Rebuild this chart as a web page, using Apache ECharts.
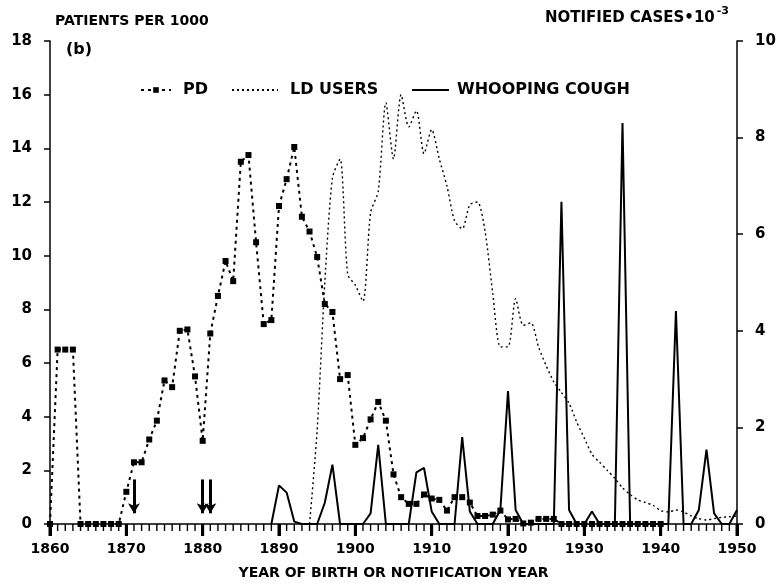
<!DOCTYPE html>
<html>
<head>
<meta charset="utf-8">
<script src="https://cdn.jsdelivr.net/npm/echarts@6.0.0/dist/echarts.min.js"></script>
<style>
  html, body { margin: 0; padding: 0; background: #fff; }
  #main { width: 780px; height: 585px; }
</style>
</head>
<body>
<div id="main"></div>
<script>
// PD patients per 1000, by year of birth (1860 - 1940)
const pdStart = 1860;
const pdValues = [
  0, 6.5, 6.5, 6.5, 0, 0, 0, 0, 0, 0,                 // 1860-1869
  1.2, 2.3, 2.3, 3.15, 3.85, 5.35, 5.1, 7.2, 7.25, 5.5, // 1870-1879
  3.1, 7.1, 8.5, 9.8, 9.05, 13.5, 13.75, 10.5, 7.45, 7.6, // 1880-1889
  11.85, 12.85, 14.05, 11.45, 10.9, 9.95, 8.2, 7.9, 5.4, 5.55, // 1890-1899
  2.95, 3.2, 3.9, 4.55, 3.85, 1.85, 1.0, 0.75, 0.75, 1.1, // 1900-1909
  0.95, 0.9, 0.5, 1.0, 1.0, 0.8, 0.3, 0.3, 0.35, 0.5,  // 1910-1919
  0.17, 0.19, 0.02, 0.05, 0.19, 0.19, 0.19, 0, 0, 0,   // 1920-1929
  0, 0, 0, 0, 0, 0, 0, 0, 0, 0,                        // 1930-1939
  0                                                    // 1940
];

// LD users per 1000 (1894 - 1950)
const ldStart = 1894;
const ldValues = [
  0, 3.5, 9.0, 12.9, 13.6, 9.3,                        // 1894-1899
  8.9, 8.3, 11.6, 12.4, 15.7, 13.6, 16.0, 14.8, 15.4, 13.8, // 1900-1909
  14.7, 13.6, 12.6, 11.3, 11.0, 11.9, 12.0, 10.9, 8.6, 6.6, // 1910-1919
  6.6, 8.4, 7.4, 7.5, 6.6, 5.9, 5.3, 4.9, 4.5, 3.8,    // 1920-1929
  3.2, 2.6, 2.3, 2.0, 1.7, 1.35, 1.1, 0.9, 0.8, 0.7,   // 1930-1939
  0.5, 0.45, 0.52, 0.45, 0.3, 0.2, 0.15, 0.2, 0.25, 0.27, // 1940-1949
  0.3                                                  // 1950
];

// whooping cough notified cases * 10^-3 (1889 - 1950)
const wcStart = 1889;
const wcValues = [
  0,                                                   // 1889
  0.8, 0.65, 0.05, 0, 0, 0, 0.44, 1.23, 0, 0,          // 1890-1899
  0, 0, 0.22, 1.64, 0, 0, 0, 0, 1.07, 1.16,            // 1900-1909
  0.26, 0, 0, 0, 1.8, 0.26, 0, 0, 0, 0.29,             // 1910-1919
  2.75, 0.29, 0, 0, 0, 0, 0, 6.67, 0.29, 0,            // 1920-1929
  0, 0.26, 0, 0, 0, 8.3, 0, 0, 0, 0,                   // 1930-1939
  0, 0, 4.41, 0, 0, 0.29, 1.54, 0.22, 0, 0,            // 1940-1949
  0.29                                                 // 1950
];

// arrows under the PD curve
const arrowYears = [1871, 1880, 1881];
const arrowTop = 1.66, arrowBottom = 0.4;

// one small tick per year on the x axis, heavier every decade
const tickYears = [];
for (let y = 1860; y <= 1950; y++) tickYears.push([y, 0]);

function pairs(start, vals) {
  return vals.map(function (v, i) { return [start + i, v]; });
}

const font = 'DejaVu Sans';
const black = '#000';

let myChart = echarts.init(document.getElementById('main'));

// legend entries: line only, no symbol for LD / whooping cough
const noSymbol = { color: 'rgba(0,0,0,0)', borderWidth: 0, opacity: 0 };

let option = {
  animation: false,
  backgroundColor: '#fff',
  grid: { left: 50, right: 43, top: 41, bottom: 61 },
  legend: [
    {
      data: ['PD'], left: 135, top: 77, itemWidth: 30, itemHeight: 7,
      textStyle: { fontFamily: font, fontWeight: 'bold', fontSize: 16, color: black, padding: [0, 0, 0, 7] }
    },
    {
      data: ['LD USERS'], left: 226, top: 77, itemWidth: 46, itemHeight: 7,
      itemStyle: noSymbol,
      textStyle: { fontFamily: font, fontWeight: 'bold', fontSize: 16, color: black, padding: [0, 0, 0, 7] }
    },
    {
      data: ['WHOOPING COUGH'], left: 406, top: 77, itemWidth: 37, itemHeight: 7,
      itemStyle: noSymbol,
      textStyle: { fontFamily: font, fontWeight: 'bold', fontSize: 16, color: black, padding: [0, 0, 0, 3] }
    }
  ],
  graphic: [
    {
      type: 'text', left: 55, top: 14,
      style: { text: 'PATIENTS PER 1000', font: 'bold 14px "DejaVu Sans"', fill: black }
    },
    {
      type: 'text', left: 545, top: 6,
      style: {
        text: '{m|NOTIFIED CASES•10}{s|-3}',
        rich: {
          m: { font: 'bold 15px "DejaVu Sans"', fill: black, padding: [8, 0, 0, 0] },
          s: { font: 'bold 11px "DejaVu Sans"', fill: black, padding: [0, 0, 6, 2] }
        }
      }
    },
    {
      type: 'text', left: 66, top: 42,
      style: { text: '(b)', font: 'bold 16px "DejaVu Sans"', fill: black }
    }
  ],
  xAxis: {
    type: 'value',
    min: 1860,
    max: 1950,
    interval: 10,
    name: 'YEAR OF BIRTH OR NOTIFICATION YEAR',
    nameLocation: 'middle',
    nameGap: 42,
    nameTextStyle: { fontFamily: font, fontWeight: 'bold', fontSize: 14, color: black },
    axisLine: { show: true, lineStyle: { color: black, width: 1.5 } },
    axisTick: { show: true, inside: false, length: 12, lineStyle: { color: black, width: 3 } },
    axisLabel: {
      margin: 18, fontFamily: font, fontWeight: 'bold', fontSize: 14, color: black,
      formatter: function (v) { return String(v); }
    },
    splitLine: { show: false }
  },
  yAxis: [
    {
      type: 'value', min: 0, max: 18, interval: 2, position: 'left',
      axisLine: { show: true, lineStyle: { color: black, width: 1.5 } },
      axisTick: { show: true, length: 6, lineStyle: { color: black, width: 1.5 } },
      axisLabel: { margin: 18, fontFamily: font, fontWeight: 'bold', fontSize: 15, color: black },
      splitLine: { show: false }
    },
    {
      type: 'value', min: 0, max: 10, interval: 2, position: 'right',
      axisLine: { show: true, lineStyle: { color: black, width: 1.5 } },
      axisTick: { show: true, length: 6, lineStyle: { color: black, width: 1.5 } },
      axisLabel: { margin: 18, fontFamily: font, fontWeight: 'bold', fontSize: 15, color: black },
      splitLine: { show: false }
    }
  ],
  series: [
    {
      name: 'PD',
      type: 'line',
      data: pairs(pdStart, pdValues),
      symbol: 'rect',
      symbolSize: 6,
      itemStyle: { color: black },
      lineStyle: { color: black, width: 2, type: [3, 4] },
      z: 3,
      markLine: {
        silent: true,
        symbol: ['none', 'arrow'],
        symbolSize: [9, 10],
        label: { show: false },
        lineStyle: { color: black, width: 3, type: 'solid' },
        data: arrowYears.map(function (y) {
          return [{ coord: [y, arrowTop] }, { coord: [y, arrowBottom] }];
        })
      }
    },
    {
      name: 'LD USERS',
      type: 'line',
      data: pairs(ldStart, ldValues),
      symbol: 'none',
      smooth: 0.25,
      itemStyle: { color: black },
      lineStyle: { color: black, width: 1.4, type: [2, 3] },
      z: 2
    },
    {
      name: 'WHOOPING COUGH',
      type: 'line',
      yAxisIndex: 1,
      data: pairs(wcStart, wcValues),
      symbol: 'none',
      itemStyle: { color: black },
      lineStyle: { color: black, width: 2 },
      z: 4
    },
    {
      name: 'year ticks',
      type: 'custom',
      data: tickYears,
      encode: { x: 0, y: 1 },
      clip: false,
      silent: true,
      z: 10,
      renderItem: function (params, api) {
        const yr = api.value(0);
        const p = api.coord([yr, 0]);
        const major = yr % 10 === 0;
        const w = major ? 3 : 1.4;
        return {
          type: 'rect',
          shape: { x: p[0] - w / 2, y: p[1], width: w, height: major ? 12 : 7 },
          style: { fill: black }
        };
      }
    }
  ]
};

myChart.setOption(option);
</script>
</body>
</html>
